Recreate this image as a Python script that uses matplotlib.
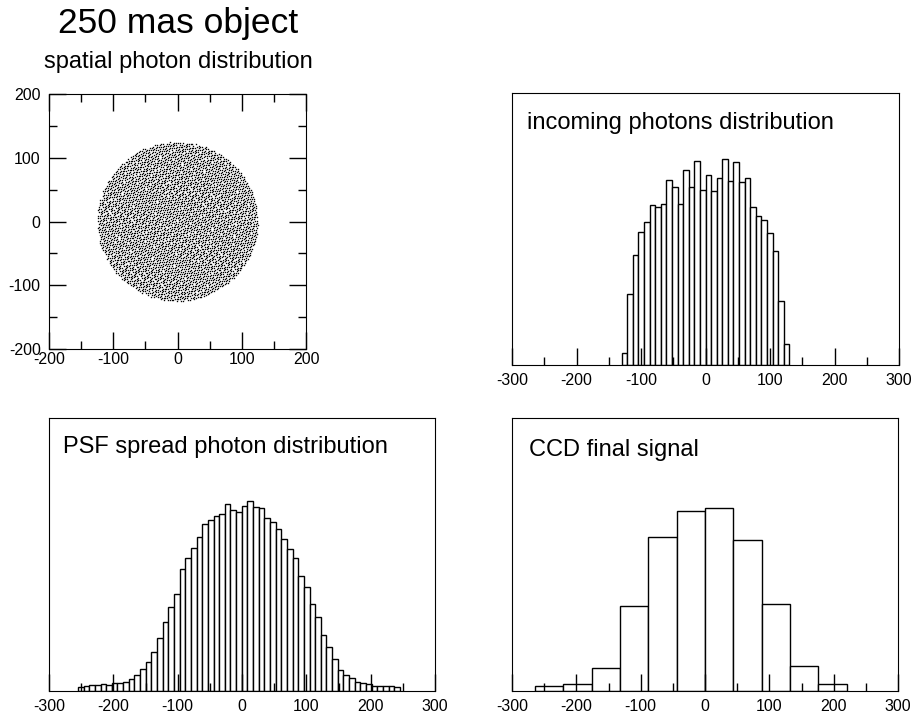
import numpy as np
import matplotlib
matplotlib.use("Agg")
import matplotlib.pyplot as plt
from matplotlib.ticker import MultipleLocator

plt.rcParams["font.family"] = ["Liberation Sans", "DejaVu Sans"]
plt.rcParams["axes.unicode_minus"] = False

# incoming photons histogram (30 bins from -130 to 130), heights
incoming_left = -130.0
incoming_width = 260.0 / 30
incoming_counts = [36, 214, 329, 400, 429, 479, 474, 484, 554, 535,
                   484, 586, 535, 611, 526, 570, 521, 562, 617, 551,
                   608, 550, 562, 474, 447, 434, 396, 342, 191, 62]

# PSF spread histogram (57 bins from about -255 to 245)
psf_left = -255.0
psf_width = 8.78
psf_counts = [11, 14, 17, 17, 20, 19, 23, 25, 27, 37,
              47, 65, 87, 116, 160, 208, 251, 292, 366, 400,
              428, 463, 500, 514, 524, 532, 562, 543, 537, 554,
              569, 552, 550, 520, 508, 487, 456, 427, 400, 346,
              313, 261, 221, 168, 133, 97, 62, 47, 39, 28,
              24, 22, 16, 16, 16, 14, 13]

# CCD pixels (11 pixels of 44 mas)
ccd_left = -264.0
ccd_width = 44.0
ccd_counts = [14, 22, 70, 253, 460, 539, 547, 453, 261, 74, 21]

# spatial disk radius of the object
disk_radius = 125.0

fig = plt.figure(figsize=(9.13, 7.16), dpi=100)

# ---- spatial photon distribution ----
# photons spread evenly over the disk (R2 low discrepancy sequence, no randomness)
n_photons = sum(incoming_counts) // 3
g = 1.32471795724474602596
a1, a2 = 1 / g, 1 / g ** 2
xs, ys = [], []
k = 0
while len(xs) < n_photons:
    k += 1
    x = (2 * ((0.5 + a1 * k) % 1.0) - 1) * disk_radius
    y = (2 * ((0.5 + a2 * k) % 1.0) - 1) * disk_radius
    if x * x + y * y <= disk_radius ** 2:
        xs.append(x)
        ys.append(y)

ax0 = fig.add_axes([49 / 913, 1 - 349 / 716, 257 / 913, 255 / 716])
ax0.plot(xs, ys, "s", color="black", ms=0.95, mew=0)
ax0.set_xlim(-200, 200)
ax0.set_ylim(-200, 200)
ax0.xaxis.set_major_locator(MultipleLocator(100))
ax0.yaxis.set_major_locator(MultipleLocator(100))
ax0.xaxis.set_minor_locator(MultipleLocator(50))
ax0.yaxis.set_minor_locator(MultipleLocator(50))
ax0.tick_params(which="both", direction="in", top=True, right=True, width=1, labelsize=11.5)
ax0.tick_params(which="major", length=12)
ax0.tick_params(which="minor", length=6)
ax0.tick_params(axis="x", pad=2.5)
ax0.tick_params(axis="y", pad=6)

fig.text(178 / 913, 1 - 33 / 716, "250 mas object", ha="center", va="baseline", fontsize=25.5)
fig.text(178 / 913, 1 - 68 / 716, "spatial photon distribution", ha="center", va="baseline", fontsize=17)


def hist_panel(rect, left, width, counts, label, label_pos, top):
    ax = fig.add_axes(rect)
    edges = left + width * np.arange(len(counts))
    ax.bar(edges, counts, width=width, align="edge", color="white",
           edgecolor="black", linewidth=1.0)
    ax.set_xlim(-300, 300)
    ax.set_ylim(0, top)
    ax.xaxis.set_major_locator(MultipleLocator(100))
    ax.xaxis.set_minor_locator(MultipleLocator(50))
    ax.set_yticks([])
    ax.tick_params(which="both", direction="in", width=1, labelsize=11.5, pad=5.5)
    ax.tick_params(which="major", length=12)
    ax.tick_params(which="minor", length=6)
    ax.text(label_pos[0], label_pos[1], label, transform=ax.transAxes,
            fontsize=17, va="baseline", ha="left")
    return ax


hist_panel([512 / 913, 1 - 365 / 716, 387 / 913, 272 / 716],
           incoming_left, incoming_width, incoming_counts,
           "incoming photons distribution", (0.039, 0.868), 816)
hist_panel([49 / 913, 1 - 691 / 716, 386 / 913, 273 / 716],
           psf_left, psf_width, psf_counts,
           "PSF spread photon distribution", (0.036, 0.872), 819)
hist_panel([512 / 913, 1 - 691 / 716, 386 / 913, 273 / 716],
           ccd_left, ccd_width, ccd_counts,
           "CCD final signal", (0.044, 0.861), 817)

fig.savefig("out.png", dpi=100)
